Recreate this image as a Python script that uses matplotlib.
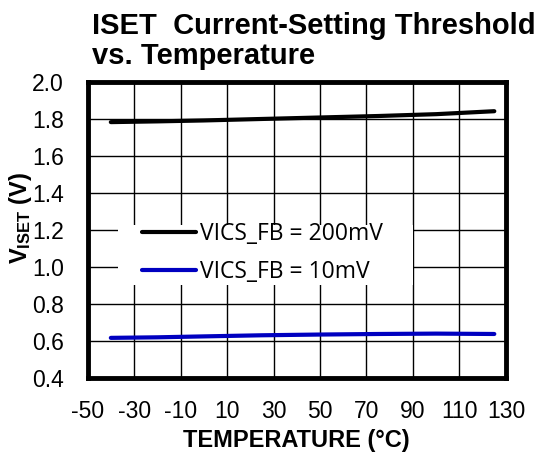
import matplotlib
matplotlib.use("Agg")
import matplotlib.pyplot as plt
from matplotlib.patches import Rectangle

# data
temp = [-40, -20, 0, 25, 50, 75, 100, 125]
v_200mv = [1.783, 1.787, 1.792, 1.800, 1.808, 1.816, 1.826, 1.842]
v_10mv = [0.616, 0.619, 0.624, 0.630, 0.634, 0.637, 0.639, 0.637]
xticks = [-50, -30, -10, 10, 30, 50, 70, 90, 110, 130]
yticks = [0.4, 0.6, 0.8, 1.0, 1.2, 1.4, 1.6, 1.8, 2.0]

plt.rcParams['font.family'] = ['Liberation Sans', 'DejaVu Sans']
plt.rcParams['mathtext.fontset'] = 'custom'
plt.rcParams['mathtext.rm'] = 'Liberation Sans'
plt.rcParams['mathtext.bf'] = 'Liberation Sans:bold'

fig = plt.figure(figsize=(5.44, 4.53), dpi=100)
ax = fig.add_axes([0.161, 0.166, 0.769, 0.653])

ax.plot(temp, v_200mv, color='black', linewidth=3, solid_capstyle='round',
        label='VICS_FB = 200mV', zorder=3)
ax.plot(temp, v_10mv, color='#0000c0', linewidth=3, solid_capstyle='round',
        label='VICS_FB = 10mV', zorder=3)

ax.set_xlim(-50, 130)
ax.set_ylim(0.4, 2.0)
ax.set_xticks(xticks)
ax.set_xticklabels([str(v) for v in xticks])
ax.set_yticks(yticks)
ax.set_yticklabels([f"{v:.1f}" for v in yticks])

# grid every 20 degC, offset from the labelled ticks
for x in range(-30, 130, 20):
    ax.axvline(x, color='black', linewidth=1, zorder=0)
for y in yticks[1:-1]:
    ax.axhline(y, color='black', linewidth=1, zorder=0)

ax.tick_params(length=0, labelsize=16.5)
ax.tick_params(axis='x', pad=16)
ax.tick_params(axis='y', pad=17)
for s in ax.spines.values():
    s.set_linewidth(3.5)

ax.set_xlabel('TEMPERATURE (°C)', fontsize=17, fontweight='bold', labelpad=4)
ax.set_ylabel(r'$\mathbf{V_{ISET}}$ (V)', fontsize=17, fontweight='bold')
ax.yaxis.set_label_coords(-0.128, 0.54)

# title, two lines
fig.text(92 / 544, 1 - 34 / 453, 'ISET  Current-Setting Threshold',
         fontsize=21, fontweight='bold', ha='left', va='baseline')
fig.text(92 / 544, 1 - 64 / 453, 'vs. Temperature',
         fontsize=21, fontweight='bold', ha='left', va='baseline')

# white box behind legend (hides grid)
ax.add_patch(Rectangle((0.073, 0.314), 0.705, 0.203, transform=ax.transAxes,
                       facecolor='white', edgecolor='none', zorder=1))
leg = ax.legend(loc='upper left', bbox_to_anchor=(0.130, 0.528),
                prop={'family': 'Open Sans', 'size': 16.5},
                frameon=False, handlelength=2.35, handletextpad=0.2,
                labelspacing=0.62, borderpad=0, borderaxespad=0)
for h in leg.get_lines():
    h.set_linewidth(3)

fig.savefig('out.png', dpi=100)
